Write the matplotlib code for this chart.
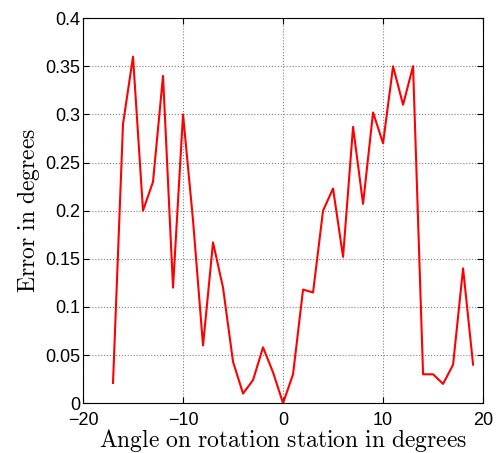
import numpy as np
import matplotlib
matplotlib.use("Agg")
import matplotlib.pyplot as plt

plt.rcParams['mathtext.fontset'] = 'cm'

# angle on rotation station (degrees) and measured error (degrees)
angle = list(range(-17, 20))
error = [0.021, 0.29, 0.36, 0.20, 0.23, 0.34, 0.12, 0.30, 0.19, 0.06,
         0.167, 0.12, 0.043, 0.01, 0.024, 0.058, 0.032, 0.0, 0.03, 0.118,
         0.115, 0.20, 0.223, 0.152, 0.287, 0.207, 0.302, 0.27, 0.35, 0.31,
         0.35, 0.03, 0.03, 0.02, 0.04, 0.14, 0.04]

xticks = [-20, -10, 0, 10, 20]
xtick_labels = ['\u221220', '\u221210', '0', '10', '20']
yticks = [0, 0.05, 0.1, 0.15, 0.2, 0.25, 0.3, 0.35, 0.4]
ytick_labels = ['0', '0.05', '0.1', '0.15', '0.2', '0.25', '0.3', '0.35', '0.4']

fig = plt.figure(figsize=(4.97, 4.53), dpi=100)
ax = fig.add_axes([0.167, 0.110, 0.805, 0.850])

ax.plot(angle, error, color='red', linewidth=1.5)

ax.set_xlim(-20, 20)
ax.set_ylim(0, 0.4)
ax.set_xticks(xticks)
ax.set_xticklabels(xtick_labels)
ax.set_yticks(yticks)
ax.set_yticklabels(ytick_labels)
ax.tick_params(direction='in', top=True, right=True, length=4,
               labelsize=13)
ax.tick_params(axis='x', pad=6)
ax.tick_params(axis='y', pad=2)
for lab in ax.get_xticklabels() + ax.get_yticklabels():
    lab.set_family('Liberation Sans')

ax.grid(True, linestyle=':', color='gray', linewidth=0.8)
for s in ax.spines.values():
    s.set_linewidth(0.8)

ax.set_xlabel(r'$\mathrm{Angle\ on\ rotation\ station\ in\ degrees}$',
              fontsize=17, va='top')
ax.xaxis.set_label_coords(0.5, -0.062)
ax.set_ylabel(r'$\mathrm{Error\ in\ degrees}$', fontsize=17, labelpad=2)

fig.savefig('out.png', dpi=100)
